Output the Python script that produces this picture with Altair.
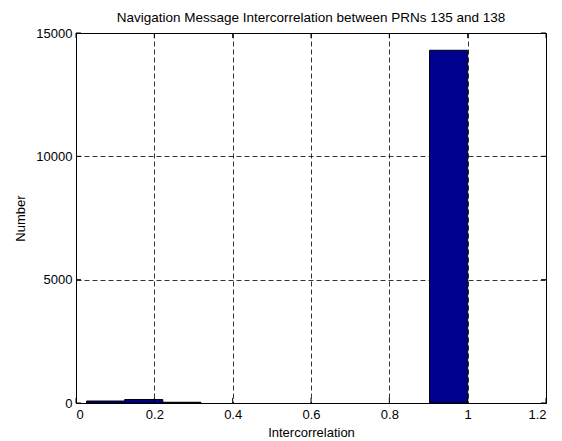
import altair as alt
import pandas as pd

bin_left = [0.027, 0.1243, 0.2216, 0.3189, 0.4162, 0.5135, 0.6108, 0.7081, 0.8054, 0.9027]
bin_right = [0.1243, 0.2216, 0.3189, 0.4162, 0.5135, 0.6108, 0.7081, 0.8054, 0.9027, 1.0]
counts = [80, 140, 30, 0, 0, 0, 0, 0, 0, 14300]
x_ticks = [0, 0.2, 0.4, 0.6, 0.8, 1.0, 1.2]
y_ticks = [0, 5000, 10000, 15000]

W, H = 470, 370
FONT = "Liberation Sans"
FS = 13

df = pd.DataFrame({"lo": bin_left, "hi": bin_right, "n": counts})
df = df[df["n"] > 0]
xt = pd.DataFrame({"x": x_ticks})
yt = pd.DataFrame({"y": y_ticks})

xs = alt.Scale(domain=[0, 1.2], nice=False, zero=False)
ys = alt.Scale(domain=[0, 15000], nice=False)

grid = dict(grid=True, gridDash=[5, 3], gridColor="black", gridOpacity=1, gridWidth=0.8, ticks=False)

bars = alt.Chart(df).mark_rect(color="#00008F", stroke="black", strokeWidth=1).encode(
    x=alt.X("lo:Q", scale=xs,
            axis=alt.Axis(values=x_ticks, format="~g", title="Intercorrelation",
                          labelPadding=5, titlePadding=5, **grid)),
    x2="hi:Q",
    y=alt.Y("n:Q", scale=ys,
            axis=alt.Axis(values=y_ticks, format="d", title="Number",
                          labelPadding=4, titlePadding=8, **grid)),
    y2=alt.datum(0),
)

tick_style = dict(color="black", strokeWidth=1)
bt = alt.Chart(xt).mark_rule(**tick_style).encode(x=alt.X("x:Q", scale=xs), y=alt.value(H), y2=alt.value(H - 5))
tt = alt.Chart(xt).mark_rule(**tick_style).encode(x=alt.X("x:Q", scale=xs), y=alt.value(0), y2=alt.value(5))
lt = alt.Chart(yt).mark_rule(**tick_style).encode(y=alt.Y("y:Q", scale=ys), x=alt.value(0), x2=alt.value(5))
rt = alt.Chart(yt).mark_rule(**tick_style).encode(y=alt.Y("y:Q", scale=ys), x=alt.value(W), x2=alt.value(W - 5))

chart = alt.layer(bars, bt, tt, lt, rt).properties(
    width=W, height=H,
    title=alt.TitleParams("Navigation Message Intercorrelation between PRNs 135 and 138",
                          fontSize=13.5, fontWeight="normal", font=FONT, color="black", offset=3),
    autosize=alt.AutoSizeParams(type="none"),
    padding={"left": 68, "top": 25, "right": 8, "bottom": 45},
    background="white",
).configure_view(stroke="black", strokeWidth=1).configure_axis(
    labelFont=FONT, labelFontSize=FS, labelColor="black",
    titleFont=FONT, titleFontSize=FS, titleFontWeight="normal", titleColor="black",
    domainColor="black", domainWidth=1,
)

chart.save("out.html", embed_options={"renderer": "svg", "actions": False})
